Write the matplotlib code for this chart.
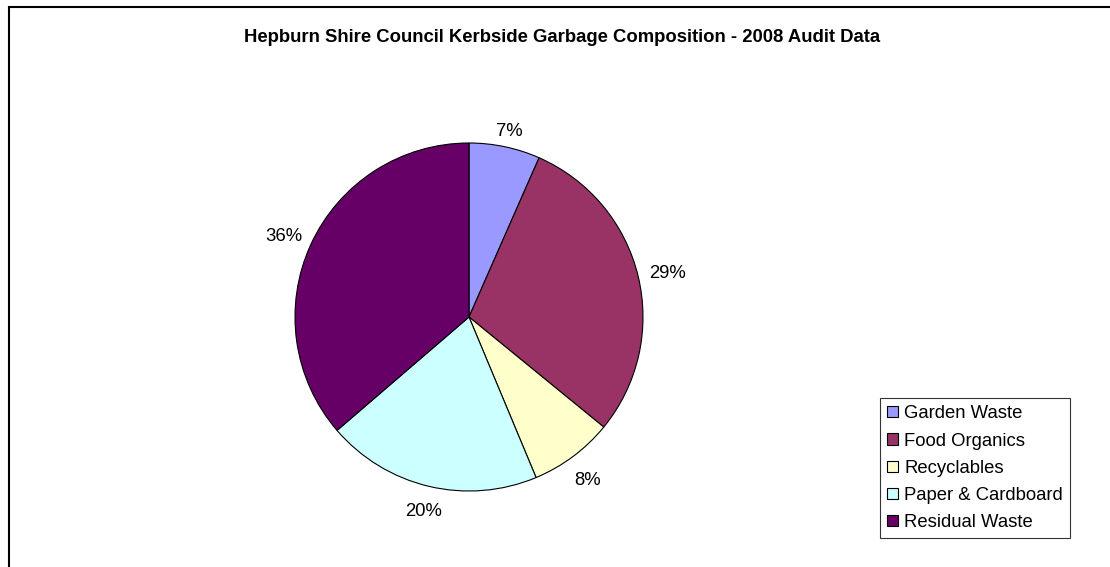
import numpy as np
import matplotlib.pyplot as plt
from matplotlib.patches import Rectangle

plt.rcParams['font.family'] = ['Liberation Sans', 'DejaVu Sans']

# 数据
categories = ['Garden Waste', 'Food Organics', 'Recyclables', 'Paper & Cardboard', 'Residual Waste']
shares = [6.6, 29.3, 7.8, 20.0, 36.3]
colors = ['#9999FF', '#993366', '#FFFFCC', '#CCFFFF', '#660066']
title = 'Hepburn Shire Council Kerbside Garbage Composition - 2008 Audit Data'

fig = plt.figure(figsize=(11.1, 5.67), dpi=100)

# 外框
fig.patches.append(Rectangle((8.5 / 1110, -0.1), 1.2, 1 - 6.5 / 567 + 0.1, transform=fig.transFigure,
                             fill=False, edgecolor='black', linewidth=1.5))

ax = fig.add_axes([295 / 1110, (567 - 491) / 567, 348 / 1110, 348 / 567])
wedges, texts = ax.pie(shares, colors=colors, startangle=90, counterclock=False,
                       wedgeprops=dict(edgecolor='black', linewidth=0.8))

# 标签放在饼外，按文字大小外移
for w, v in zip(wedges, shares):
    lab = f'{v:.0f}%'
    ang = np.deg2rad((w.theta1 + w.theta2) / 2)
    hw = 0.072 if len(lab) == 2 else 0.103
    d = 1.063 + hw * abs(np.cos(ang)) + 0.04 * abs(np.sin(ang))
    ax.text(d * np.cos(ang), d * np.sin(ang) - 0.025, lab, ha='center', va='center', fontsize=13.3)
ax.set_xlim(-1, 1)
ax.set_ylim(-1, 1)
ax.set_aspect('equal')

fig.text(562.5 / 1110, 1 - 37 / 567, title, ha='center', va='center', fontsize=13.3, fontweight='bold')

leg = fig.legend(wedges, categories, loc='upper left', bbox_to_anchor=(880 / 1110, 1 - 398 / 567),
                 fontsize=13.3, frameon=True, fancybox=False, edgecolor='black',
                 handlelength=0.55, handleheight=0.55, handletextpad=0.35, labelspacing=0.55,
                 borderpad=0.4, borderaxespad=0)
leg.get_frame().set_linewidth(0.8)

fig.savefig('out.png', dpi=100)
